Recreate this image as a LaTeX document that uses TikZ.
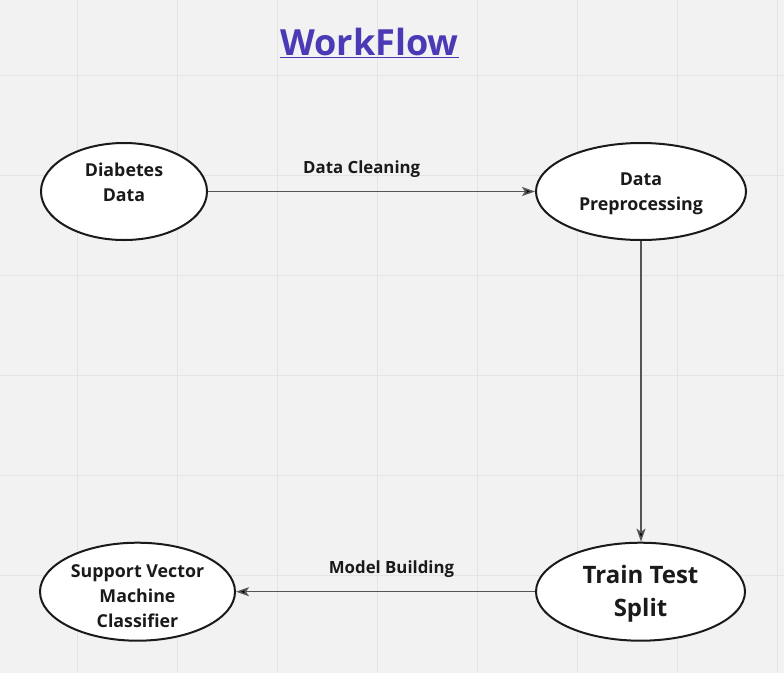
\documentclass[tikz,border=0pt]{standalone}
\usepackage{fontspec}
\setmainfont{Open Sans}
\usetikzlibrary{shapes.geometric,arrows.meta}
\definecolor{bg}{HTML}{F2F2F2}
\definecolor{gridc}{HTML}{E4E4E4}
\definecolor{titlec}{HTML}{4A3AB5}
\definecolor{linec}{HTML}{555555}
\definecolor{inkc}{HTML}{1A1A1A}
\tikzset{
  x=1pt, y=-1pt,
  oval/.style={ellipse, draw=inkc, line width=2pt, fill=white, inner sep=0pt},
  ovaltext/.style={align=center, text=inkc, font=\bfseries\fontsize{17.8}{25}\selectfont},
  bigtext/.style={align=center, text=inkc, font=\bfseries\fontsize{24}{33}\selectfont},
  flow/.style={draw=linec, line width=1.5pt, -{Stealth[length=13pt,width=9pt,inset=3pt,fill=black]}},
  flowlabel/.style={text=inkc, font=\bfseries\fontsize{16.8}{20}\selectfont, anchor=base, yshift=18.5pt},
}
\begin{document}
\begin{tikzpicture}
\useasboundingbox (0,0) rectangle (784,673);
\fill[bg] (0,0) rectangle (784,673);
\foreach \gx in {77.7,177.7,277.7,377.7,477.7,577.7,677.7,777.7}
  \draw[gridc, line width=1pt] (\gx,0) -- (\gx,673);
\foreach \gy in {75,175,275,375,475,575}
  \draw[gridc, line width=1pt] (0,\gy) -- (784,\gy);

\node[text=titlec, font=\bfseries\fontsize{36}{40}\selectfont, anchor=base] (title) at (369.5,55) {\underline{WorkFlow}};

\node[oval, minimum width=166pt, minimum height=97pt] (A) at (124,191.5) {};
\node[oval, minimum width=210pt, minimum height=97pt] (B) at (641,191.5) {};
\node[oval, minimum width=209pt, minimum height=98pt] (C) at (640.5,591.7) {};
\node[oval, minimum width=195pt, minimum height=98pt] (D) at (137.5,591.7) {};

\node[ovaltext] (At) at ([yshift=9pt]A.center) {Diabetes\\Data};
\node[ovaltext] (Bt) at ([yshift=-2pt]B.center) {Data\\Preprocessing};
\node[bigtext] (Ct) at ([yshift=-2.5pt]C.center) {Train Test\\Split};
\node[ovaltext] (Dt) at ([yshift=-4.5pt]D.center) {Support Vector\\Machine\\Classifier};

\draw[flow] (A.east) -- node[flowlabel, pos=0.47] (l1) {Data Cleaning} (B.west);
\draw[flow] (B.south) -- (B.south |- C.north);
\draw[flow] (C.west) -- node[flowlabel, pos=0.48] (l2) {Model Building} (D.east);
\end{tikzpicture}
\end{document}
